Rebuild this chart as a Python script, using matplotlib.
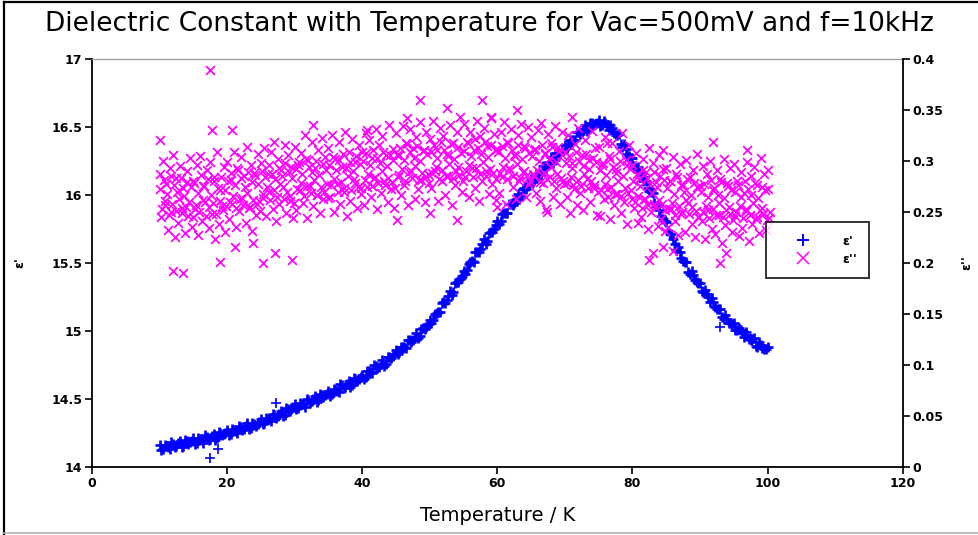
import numpy as np
import matplotlib
matplotlib.use("Agg")
import matplotlib.pyplot as plt
from matplotlib.lines import Line2D

# --- data (temperature grid in K, 0.5 K steps) ---
temps = np.arange(10.0, 100.01, 0.5)

# epsilon' (left axis), two interleaved runs
eps_real = [
    14.16, 14.13, 14.155, 14.13, 14.172, 14.157, 14.195, 14.155, 14.19, 14.181,
    14.21, 14.18, 14.205, 14.18, 14.222, 14.207, 14.245, 14.21, 14.25, 14.241,
    14.27, 14.245, 14.275, 14.25, 14.292, 14.282, 14.325, 14.285, 14.32, 14.316,
    14.35, 14.325, 14.355, 14.335, 14.382, 14.372, 14.415, 14.385, 14.43, 14.426,
    14.46, 14.435, 14.465, 14.445, 14.492, 14.482, 14.525, 14.49, 14.53, 14.526,
    14.56, 14.535, 14.565, 14.55, 14.602, 14.592, 14.635, 14.605, 14.65, 14.646,
    14.68, 14.665, 14.705, 14.69, 14.742, 14.737, 14.785, 14.76, 14.81, 14.816,
    14.86, 14.845, 14.885, 14.875, 14.932, 14.932, 14.985, 14.965, 15.02, 15.031,
    15.08, 15.08, 15.135, 15.14, 15.212, 15.227, 15.295, 15.29, 15.36, 15.381,
    15.44, 15.445, 15.505, 15.51, 15.582, 15.602, 15.675, 15.665, 15.73, 15.751,
    15.81, 15.81, 15.865, 15.865, 15.932, 15.942, 16.005, 15.99, 16.05, 16.066,
    16.12, 16.11, 16.155, 16.15, 16.212, 16.217, 16.275, 16.255, 16.31, 16.321,
    16.37, 16.36, 16.405, 16.40, 16.462, 16.462, 16.515, 16.485, 16.53, 16.521,
    16.55, 16.515, 16.525, 16.475, 16.492, 16.442, 16.445, 16.355, 16.34, 16.286,
    16.27, 16.195, 16.175, 16.105, 16.102, 16.032, 16.015, 15.915, 15.89, 15.826,
    15.80, 15.71, 15.675, 15.595, 15.582, 15.517, 15.505, 15.42, 15.41, 15.361,
    15.35, 15.285, 15.275, 15.21, 15.212, 15.162, 15.165, 15.09, 15.09, 15.056,
    15.06, 15.005, 15.005, 14.955, 14.972, 14.932, 14.945, 14.885, 14.90, 14.871,
    14.88,
]
# second run, measured a quarter kelvin later (10.25 ... 99.75 K)
eps_real_b = [
    14.122, 14.162, 14.147, 14.182, 14.150, 14.175, 14.147, 14.197, 14.172, 14.191,
    14.172, 14.212, 14.197, 14.232, 14.200, 14.225, 14.200, 14.255, 14.232, 14.251,
    14.235, 14.280, 14.267, 14.302, 14.273, 14.303, 14.277, 14.327, 14.305, 14.329,
    14.315, 14.360, 14.350, 14.390, 14.363, 14.393, 14.372, 14.432, 14.415, 14.439,
    14.425, 14.470, 14.460, 14.500, 14.473, 14.503, 14.480, 14.535, 14.515, 14.539,
    14.525, 14.570, 14.562, 14.607, 14.583, 14.613, 14.592, 14.652, 14.635, 14.659,
    14.650, 14.705, 14.702, 14.747, 14.725, 14.760, 14.745, 14.810, 14.800, 14.834,
    14.830, 14.885, 14.885, 14.935, 14.918, 14.958, 14.947, 15.017, 15.012, 15.051,
    15.057, 15.127, 15.142, 15.207, 15.205, 15.260, 15.265, 15.350, 15.357, 15.406,
    15.420, 15.495, 15.512, 15.577, 15.578, 15.638, 15.642, 15.722, 15.727, 15.776,
    15.787, 15.857, 15.870, 15.930, 15.923, 15.973, 15.970, 16.045, 16.045, 16.089,
    16.092, 16.152, 16.157, 16.212, 16.200, 16.245, 16.237, 16.307, 16.302, 16.341,
    16.342, 16.402, 16.407, 16.462, 16.448, 16.488, 16.472, 16.532, 16.512, 16.531,
    16.510, 16.540, 16.505, 16.515, 16.453, 16.443, 16.372, 16.372, 16.300, 16.274,
    16.210, 16.205, 16.145, 16.135, 16.053, 16.023, 15.937, 15.927, 15.845, 15.809,
    15.732, 15.712, 15.640, 15.620, 15.535, 15.510, 15.435, 15.440, 15.372, 15.351,
    15.295, 15.300, 15.247, 15.242, 15.173, 15.163, 15.100, 15.115, 15.060, 15.054,
    15.010, 15.025, 14.985, 14.995, 14.938, 14.938, 14.887, 14.917, 14.872, 14.871,
]
eps_real_out_t = [17.5, 18.7, 27.3, 93.0]
eps_real_out = [14.07, 14.13, 14.47, 15.03]

# epsilon'' (right axis): four interleaved runs across the scattered band
eps_imag_hi = [
    .287, .300, .277, .293, .306, .283, .295, .273, .290, .303,
    .280, .296, .305, .275, .291, .299, .284, .309, .271, .294,
    .299, .281, .309, .293, .304, .285, .314, .296, .288, .307,
    .298, .313, .287, .309, .319, .302, .291, .316, .306, .294,
    .314, .296, .308, .325, .301, .319, .293, .311, .322, .304,
    .313, .325, .302, .319, .294, .328, .309, .321, .299, .316,
    .309, .327, .320, .303, .331, .316, .324, .306, .335, .312,
    .327, .306, .334, .318, .331, .313, .323, .338, .310, .328,
    .321, .339, .311, .332, .324, .307, .335, .318, .328, .343,
    .336, .319, .328, .311, .339, .324, .332, .315, .343, .326,
    .312, .328, .338, .319, .331, .306, .325, .336, .315, .333,
    .323, .311, .330, .337, .307, .326, .318, .334, .314, .328,
    .309, .325, .298, .317, .332, .306, .320, .301, .329, .313,
    .314, .296, .323, .305, .318, .292, .310, .327, .301, .316,
    .296, .308, .282, .302, .289, .313, .298, .279, .306, .292,
    .293, .280, .304, .287, .297, .276, .301, .284, .291, .307,
    .275, .295, .287, .300, .271, .291, .282, .302, .278, .293,
    .297, .280, .289, .269, .299, .285, .294, .276, .303, .287,
    .291,
]
eps_imag_mh = [
    .272, .281, .268, .285, .276, .270, .283, .266, .279, .274,
    .278, .269, .286, .275, .282, .267, .280, .273, .284, .271,
    .280, .288, .276, .291, .283, .274, .289, .279, .286, .277,
    .290, .284, .296, .287, .282, .293, .285, .298, .289, .283,
    .292, .299, .287, .302, .294, .289, .300, .286, .297, .291,
    .296, .304, .291, .301, .307, .293, .299, .290, .305, .297,
    .300, .308, .296, .311, .303, .298, .309, .295, .306, .301,
    .306, .313, .301, .317, .309, .303, .315, .300, .311, .307,
    .309, .316, .303, .319, .311, .305, .317, .302, .314, .308,
    .310, .318, .305, .321, .313, .307, .319, .304, .316, .311,
    .309, .315, .303, .318, .311, .305, .316, .302, .313, .308,
    .305, .312, .300, .316, .308, .302, .314, .299, .310, .306,
    .298, .305, .293, .309, .300, .295, .307, .292, .303, .299,
    .291, .298, .286, .302, .294, .288, .300, .285, .296, .292,
    .280, .287, .275, .291, .283, .277, .289, .274, .285, .281,
    .273, .280, .268, .284, .276, .270, .282, .267, .278, .274,
    .270, .277, .265, .281, .273, .267, .279, .264, .275, .271,
    .270, .276, .265, .280, .272, .267, .278, .264, .274, .271,
    .272,
]
eps_imag_ml = [
    .253, .261, .247, .258, .251, .263, .249, .255, .260, .245,
    .257, .250, .262, .246, .255, .259, .248, .261, .252, .256,
    .260, .266, .254, .263, .257, .269, .255, .262, .258, .251,
    .268, .274, .262, .271, .265, .277, .263, .270, .266, .259,
    .272, .278, .266, .275, .269, .281, .267, .274, .270, .264,
    .276, .282, .270, .279, .273, .285, .271, .278, .274, .268,
    .281, .287, .275, .284, .278, .290, .276, .283, .279, .273,
    .286, .292, .280, .289, .283, .295, .281, .288, .284, .278,
    .288, .294, .282, .291, .285, .297, .283, .290, .286, .280,
    .290, .296, .284, .293, .287, .299, .285, .292, .288, .282,
    .288, .294, .282, .291, .285, .297, .283, .290, .286, .280,
    .285, .291, .279, .288, .282, .294, .280, .287, .283, .277,
    .278, .284, .272, .281, .275, .287, .273, .280, .276, .270,
    .271, .277, .265, .274, .268, .280, .266, .273, .269, .263,
    .260, .266, .254, .263, .257, .269, .255, .262, .258, .252,
    .253, .259, .247, .256, .250, .262, .248, .255, .251, .245,
    .250, .256, .244, .253, .247, .259, .245, .252, .248, .242,
    .250, .256, .244, .253, .247, .259, .245, .252, .248, .242,
    .250,
]
eps_imag_lo = [
    .245, .257, .232, .250, .225, .239, .254, .229, .246, .235,
    .253, .227, .241, .260, .234, .248, .223, .238, .256, .230,
    .243, .258, .235, .251, .264, .239, .254, .231, .247, .261,
    .264, .246, .270, .253, .241, .258, .274, .249, .261, .244,
    .252, .271, .259, .244, .275, .256, .267, .249, .263, .277,
    .265, .250, .277, .258, .270, .246, .261, .282, .254, .273,
    .257, .274, .265, .283, .253, .269, .280, .260, .272, .254,
    .284, .267, .276, .257, .290, .263, .272, .281, .260, .287,
    .273, .290, .261, .280, .267, .285, .257, .276, .294, .270,
    .284, .265, .293, .273, .261, .280, .290, .268, .277, .262,
    .269, .284, .258, .293, .274, .263, .280, .289, .265, .277,
    .287, .269, .261, .278, .253, .284, .265, .273, .258, .280,
    .265, .249, .276, .257, .269, .252, .282, .260, .273, .247,
    .246, .263, .272, .243, .257, .268, .249, .260, .238, .271,
    .254, .239, .245, .263, .233, .250, .258, .236, .243, .231,
    .235, .253, .241, .227, .248, .230, .259, .238, .225, .245,
    .241, .223, .252, .233, .228, .247, .220, .237, .255, .230,
    .246, .226, .234, .251, .222, .238, .243, .229, .254, .232,
    .244,
]
eps_imag_out_t = [17.5, 13.5, 12.0, 18.9, 21.2, 23.8, 25.3, 27.1, 29.6, 10.0,
                  17.8, 20.7, 32.7, 40.7, 46.6, 48.5, 52.5, 57.7, 59.1, 62.9,
                  71.0, 45.1, 50.0, 54.0, 60.0, 67.3, 83.0, 82.5, 84.5, 86.0,
                  93.0, 93.8, 84.5, 91.9, 96.9, 76.3]
eps_imag_out = [0.389, 0.190, 0.192, 0.201, 0.216, 0.220, 0.200, 0.210, 0.203, 0.320,
                0.330, 0.330, 0.335, 0.330, 0.342, 0.360, 0.352, 0.360, 0.342, 0.350,
                0.343, 0.242, 0.249, 0.242, 0.255, 0.250, 0.210, 0.203, 0.216, 0.212,
                0.200, 0.210, 0.311, 0.319, 0.311, 0.318]

BLUE = "#0000ff"
MAGENTA = "#ff00ff"

fig = plt.figure(figsize=(9.79, 5.35), dpi=100)
ax = fig.add_axes([0.094, 0.127, 0.828, 0.763])
ax2 = ax.twinx()

# blue plus markers for eps'
pkw = dict(marker="+", s=52, linewidths=1.9, color=BLUE)
ax.scatter(temps, eps_real, **pkw)
ax.scatter(temps[:-1] + 0.25, eps_real_b, **pkw)
ax.scatter(eps_real_out_t, eps_real_out, marker="+", s=42, linewidths=1.2, color=BLUE)

# magenta crosses for eps''
xkw = dict(marker="x", s=40, linewidths=1.25, color=MAGENTA)
ax2.scatter(temps, eps_imag_hi, **xkw)
ax2.scatter(temps + 0.125, eps_imag_mh, **xkw)
ax2.scatter(temps + 0.25, eps_imag_lo, **xkw)
ax2.scatter(temps + 0.375, eps_imag_ml, **xkw)
ax2.scatter(eps_imag_out_t, eps_imag_out, **xkw)

ax.set_xlim(0, 120)
ax.set_ylim(14, 17)
ax2.set_ylim(0, 0.4)
ax.set_xticks(np.arange(0, 121, 20))
ax.set_yticks(np.arange(14, 17.01, 0.5))
ax2.set_yticks(np.arange(0, 0.401, 0.05))
ax.set_yticklabels(["14", "14.5", "15", "15.5", "16", "16.5", "17"])
ax2.set_yticklabels(["0", "0.05", "0.1", "0.15", "0.2", "0.25", "0.3", "0.35", "0.4"])

for a in (ax, ax2):
    a.tick_params(direction="out", length=5, width=1.2, labelsize=9, pad=2)
    for lab in a.get_xticklabels() + a.get_yticklabels():
        lab.set_fontweight("bold")

ax.spines["right"].set_visible(False)
ax.spines["top"].set_color("#a0a0a0")
ax.spines["top"].set_linewidth(1.0)
ax.spines["left"].set_linewidth(1.3)
ax.spines["bottom"].set_linewidth(1.3)
for s in ("left", "top", "bottom"):
    ax2.spines[s].set_visible(False)
ax2.spines["right"].set_linewidth(1.3)

ax.set_ylabel("ε'", fontsize=9, fontweight="bold", labelpad=18)
ax2.set_ylabel("ε''", fontsize=9, fontweight="bold", labelpad=12)
ax.set_xlabel("Temperature / K", fontsize=14, labelpad=12)
fig.suptitle("Dielectric Constant with Temperature for Vac=500mV and f=10kHz",
             fontsize=19, y=0.98)

# legend
handles = [
    Line2D([], [], marker="+", linestyle="none", color=BLUE, markersize=9, markeredgewidth=1.4),
    Line2D([], [], marker="x", linestyle="none", color=MAGENTA, markersize=8, markeredgewidth=1.1),
]
leg = ax2.legend(handles, ["ε'", "ε''"], loc="upper left", bbox_to_anchor=(0.831, 0.60),
                 frameon=True, fancybox=False, edgecolor="black", borderpad=1.0,
                 handlelength=4.0, handletextpad=1.1, labelspacing=0.4, borderaxespad=0,
                 prop={"weight": "bold", "size": 9})
leg.get_frame().set_linewidth(1.4)
leg.set_zorder(10)

# figure frame
fig.add_artist(Line2D([0.004, 0.004], [0.0, 0.996], color="black", lw=1.6, transform=fig.transFigure))
fig.add_artist(Line2D([0.004, 1.0], [0.996, 0.996], color="black", lw=1.6, transform=fig.transFigure))
fig.add_artist(Line2D([0.004, 1.0], [0.004, 0.004], color="#b0b0b0", lw=1.2, transform=fig.transFigure))

fig.savefig("out.png", dpi=100)
